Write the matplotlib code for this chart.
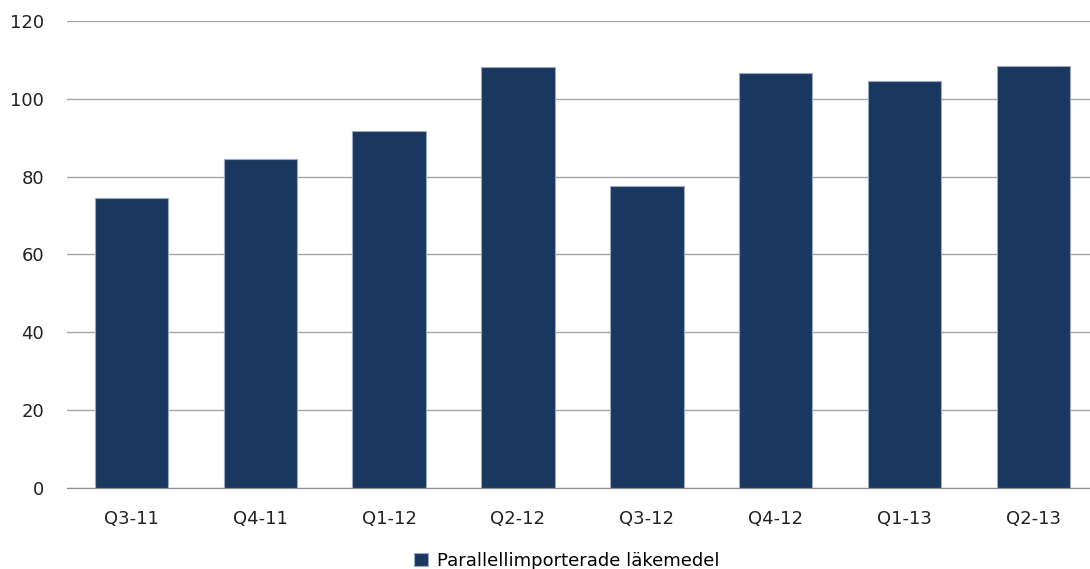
import numpy as np
import matplotlib.pyplot as plt

quarters = ["Q3-11", "Q4-11", "Q1-12", "Q2-12", "Q3-12", "Q4-12", "Q1-13", "Q2-13"]
values = [74.5, 84.5, 91.7, 108.2, 77.6, 106.6, 104.6, 108.4]
series_name = "Parallellimporterade läkemedel"

plt.rcParams['font.family'] = ['DejaVu Sans']

fig = plt.figure(figsize=(10.9, 5.69), dpi=100)
ax = fig.add_axes([0.0615, 0.1424, 0.9385, 0.8207])

x = np.arange(len(quarters))
ax.bar(x, values, width=0.57, color="#1a375f", edgecolor="#9aa8c0",
       linewidth=0.8, label=series_name, zorder=3)

ax.set_ylim(0, 120)
ax.set_yticks(range(0, 121, 20))
ax.set_xlim(-0.5, 7.44)
ax.set_xticks(x)
ax.set_xticklabels(quarters)
ax.yaxis.grid(True, color="#a6a6a6", linewidth=1, zorder=0)
for s in ["top", "right", "left"]:
    ax.spines[s].set_visible(False)
ax.spines["bottom"].set_color("#8c8c8c")
ax.tick_params(axis="both", length=0, labelsize=13, colors="#222222")
ax.tick_params(axis="y", pad=16.5)
ax.tick_params(axis="x", pad=16)

fig.legend(loc="center", bbox_to_anchor=(0.52, 0.014), frameon=False,
           fontsize=13, handlelength=0.75, handleheight=0.75, handletextpad=0.5)

fig.savefig("out.png", dpi=100)
